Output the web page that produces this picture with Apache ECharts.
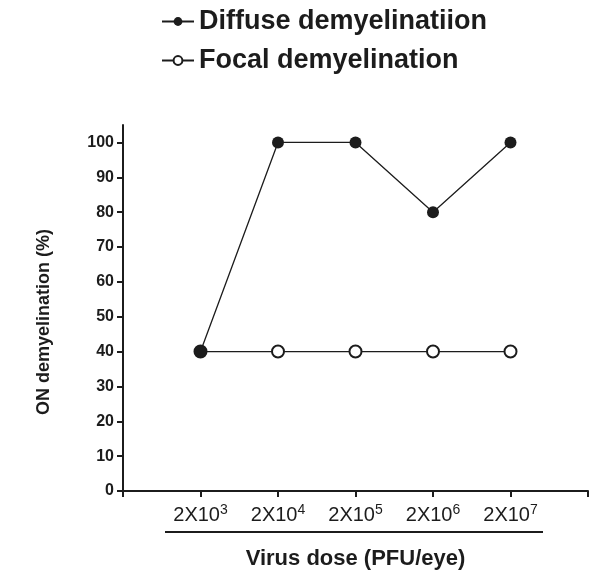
<!DOCTYPE html>
<html><head><meta charset="utf-8">
<script src="https://cdn.jsdelivr.net/npm/echarts@6/dist/echarts.min.js"></script>
<style>html,body{margin:0;padding:0;background:#fff}#c{width:600px;height:575px}</style>
</head><body><div id="c"></div>
<script>
var doseBase = '2X10';
var doseExponents = ['3', '4', '5', '6', '7'];
var diffuseValues = [40, 100, 100, 80, 100];
var focalValues = [40, 40, 40, 40, 40];
var yTicks = [0, 10, 20, 30, 40, 50, 60, 70, 80, 90, 100];
var seriesNames = ['Diffuse demyelinatiion', 'Focal demyelination'];

var FONT = 'Liberation Sans, Arial, Helvetica, sans-serif';
var INK = '#1c1c1c';
var chart = echarts.init(document.getElementById('c'));
var xIdx = doseExponents.map(function (e, i) { return i; });
chart.setOption({
  animation: false,
  textStyle: { fontFamily: FONT, color: INK },
  legend: {
    orient: 'vertical', left: 156, top: 3, itemGap: 12,
    itemWidth: 32, itemHeight: 11,
    textStyle: { fontFamily: FONT, fontSize: 27, fontWeight: 'bold', color: INK },
    data: seriesNames
  },
  grid: { left: 123, right: 12, top: 125, bottom: 83, containLabel: false },
  xAxis: {
    type: 'value', min: -1, max: 5,
    name: 'Virus dose (PFU/eye)', nameLocation: 'middle', nameGap: 57,
    nameTextStyle: { fontFamily: FONT, fontSize: 22, fontWeight: 'bold', color: INK },
    axisLine: { onZero: false, lineStyle: { color: INK, width: 2 } },
    axisTick: { show: true, inside: false, length: 6, lineStyle: { color: INK, width: 2 }, customValues: [-1, 0, 1, 2, 3, 4, 5] },
    splitLine: { show: false },
    axisLabel: {
      customValues: xIdx, margin: 12,
      formatter: function (v) { return '{b|' + doseBase + '}{s|' + doseExponents[Math.round(v)] + '}'; },
      rich: {
        b: { fontFamily: FONT, fontSize: 20, lineHeight: 24, color: INK },
        s: { fontFamily: FONT, fontSize: 14, lineHeight: 14, verticalAlign: 'top', color: INK }
      }
    }
  },
  yAxis: {
    type: 'value', min: 0, max: 105,
    name: 'ON demyelination (%)', nameLocation: 'middle', nameGap: 70, nameRotate: 90,
    nameTextStyle: { fontFamily: FONT, fontSize: 18, fontWeight: 'bold', color: INK, padding: [0, 28, 0, 0] },
    axisLine: { show: true, onZero: false, lineStyle: { color: INK, width: 2 } },
    axisTick: { show: true, length: 6, lineStyle: { color: INK, width: 2 }, customValues: yTicks },
    axisLabel: { customValues: yTicks, margin: 9, fontFamily: FONT, fontSize: 16, fontWeight: 'bold', color: INK },
    splitLine: { show: false }
  },
  graphic: [{
    type: 'line', shape: { x1: 165, y1: 532, x2: 543, y2: 532 },
    style: { stroke: INK, lineWidth: 2 }
  }],
  series: [{
    name: seriesNames[1], type: 'line', z: 2,
    data: focalValues.map(function (v, i) { return [xIdx[i], v]; }),
    symbol: 'emptyCircle', symbolSize: 12,
    lineStyle: { color: INK, width: 1.3 },
    itemStyle: { color: INK, borderColor: INK, borderWidth: 1.6 }
  }, {
    name: seriesNames[0], type: 'line', z: 3,
    data: diffuseValues.map(function (v, i) { return [xIdx[i], v]; }),
    symbol: 'circle', symbolSize: 12,
    lineStyle: { color: INK, width: 1.3 },
    itemStyle: { color: INK }
  }]
});
</script></body></html>
